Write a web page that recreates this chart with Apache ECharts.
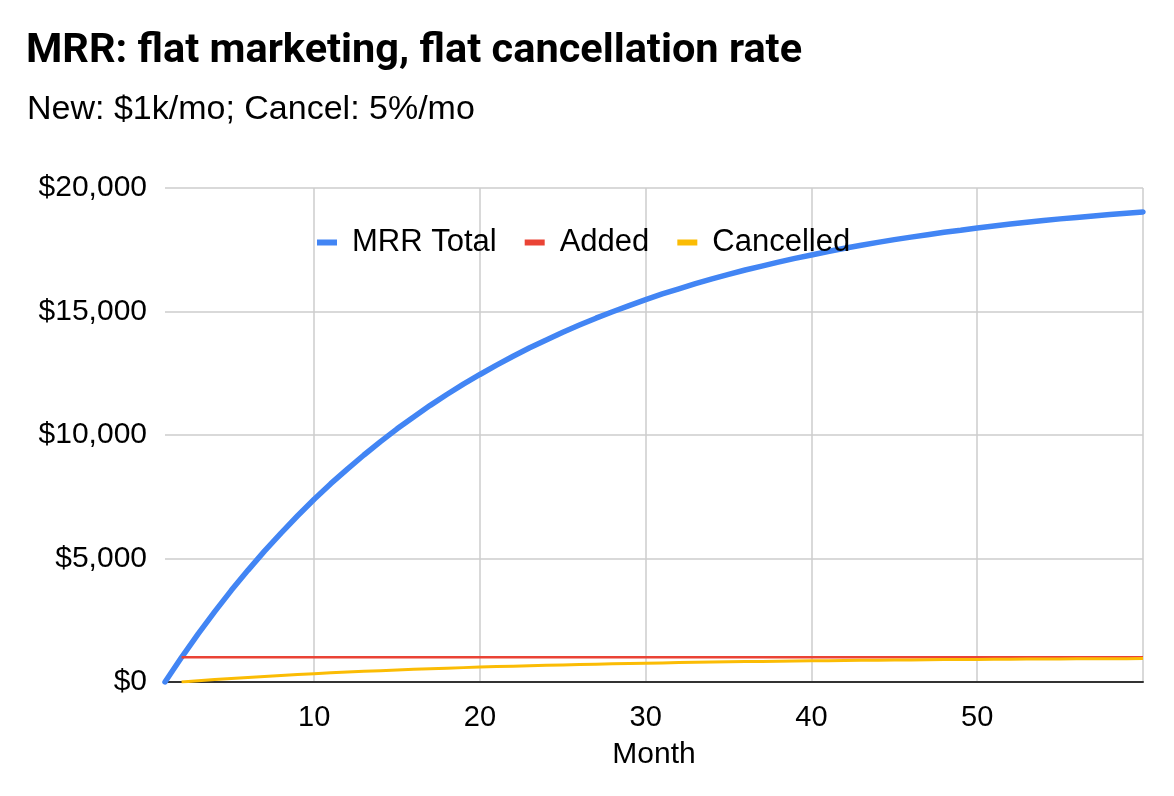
<!DOCTYPE html>
<html>
<head>
<meta charset="utf-8">
<script src="https://cdn.jsdelivr.net/npm/echarts@6/dist/echarts.min.js"></script>
<style>html,body{margin:0;padding:0;background:#fff}#c{width:1174px;height:796px}</style>
</head>
<body>
<div id="c"></div>
<script>
var months = ["1","2","3","4","5","6","7","8","9","10","11","12","13","14","15","16","17","18","19","20","21","22","23","24","25","26","27","28","29","30","31","32","33","34","35","36","37","38","39","40","41","42","43","44","45","46","47","48","49","50","51","52","53","54","55","56","57","58","59","60"];
var mrrTotal = [0,1000,1950,2850,3710,4520,5300,6030,6730,7400,8030,8620,9190,9730,10250,10730,11200,11640,12060,12450,12830,13190,13530,13850,14160,14450,14730,14990,15240,15480,15710,15920,16130,16320,16500,16680,16840,17000,17150,17290,17430,17560,17680,17800,17910,18010,18110,18210,18290,18380,18460,18540,18610,18680,18750,18810,18870,18930,18980,19030];
var added = [null,1000,1000,1000,1000,1000,1000,1000,1000,1000,1000,1000,1000,1000,1000,1000,1000,1000,1000,1000,1000,1000,1000,1000,1000,1000,1000,1000,1000,1000,1000,1000,1000,1000,1000,1000,1000,1000,1000,1000,1000,1000,1000,1000,1000,1000,1000,1000,1000,1000,1000,1000,1000,1000,1000,1000,1000,1000,1000,1000];
var cancelled = [null,0,50,98,143,186,226,265,302,337,370,401,431,460,487,512,537,560,582,603,623,642,659,676,693,708,723,737,750,762,774,785,796,806,816,825,834,842,850,858,865,872,878,884,890,895,901,906,910,915,919,923,927,931,934,937,940,943,946,949];

var titleFont = 'Roboto, "Liberation Sans", Arial, sans-serif';
var font = '"Liberation Sans", Arial, Helvetica, sans-serif';
var chart = echarts.init(document.getElementById('c'));
chart.setOption({
  animation: false,
  backgroundColor: '#fff',
  textStyle: { fontFamily: font },
  title: [
    { text: 'MRR: flat marketing, flat cancellation rate', left: 21, top: 26,
      textStyle: { fontFamily: titleFont, fontSize: 41.5, lineHeight: 41, fontWeight: 'bold', color: '#000' } },
    { text: 'New: $1k/mo; Cancel: 5%/mo', left: 22, top: 88,
      textStyle: { fontFamily: font, fontSize: 34, lineHeight: 34, fontWeight: 'normal', color: '#000' } }
  ],
  legend: {
    left: 312, top: 222, z: 10,
    icon: 'rect', itemWidth: 20, itemHeight: 6, itemGap: 28,
    textStyle: { fontFamily: font, fontSize: 31, color: '#000', padding: [0, 0, 0, 10] },
    data: ['MRR Total', 'Added', 'Cancelled']
  },
  grid: { left: 165, right: 31, top: 188, bottom: 114, containLabel: false },
  xAxis: {
    type: 'category', data: months, boundaryGap: false,
    name: 'Month', nameLocation: 'middle', nameGap: 58,
    nameTextStyle: { fontFamily: font, fontSize: 30, color: '#000' },
    axisLine: { show: true, lineStyle: { color: '#333', width: 2 } },
    axisTick: { show: false },
    axisLabel: {
      fontFamily: font, fontSize: 29, color: '#000', margin: 21,
      interval: function (i) { return (i + 1) % 10 === 0 && i < 59; }
    },
    splitLine: {
      show: true, lineStyle: { color: '#cccccc', width: 1.5 },
      interval: function (i) { return (i + 1) % 10 === 0; }
    }
  },
  yAxis: {
    type: 'value', min: 0, max: 20000, interval: 5000,
    axisLine: { show: false }, axisTick: { show: false },
    axisLabel: {
      fontFamily: font, fontSize: 30, color: '#000', margin: 18,
      formatter: function (v) { return '$' + v.toLocaleString('en-US'); }
    },
    splitLine: { lineStyle: { color: '#cccccc', width: 1.5 } }
  },
  series: [
    { name: 'MRR Total', type: 'line', data: mrrTotal, showSymbol: false, symbol: 'none',
      lineStyle: { color: '#4285F4', width: 5.5, cap: 'round' }, itemStyle: { color: '#4285F4' }, z: 3 },
    { name: 'Added', type: 'line', data: added, showSymbol: false, symbol: 'none',
      lineStyle: { color: '#EA4335', width: 2.5 }, itemStyle: { color: '#EA4335' }, z: 4 },
    { name: 'Cancelled', type: 'line', data: cancelled, showSymbol: false, symbol: 'none',
      lineStyle: { color: '#FBBC04', width: 3 }, itemStyle: { color: '#FBBC04' }, z: 5 }
  ]
});
</script>
</body>
</html>
